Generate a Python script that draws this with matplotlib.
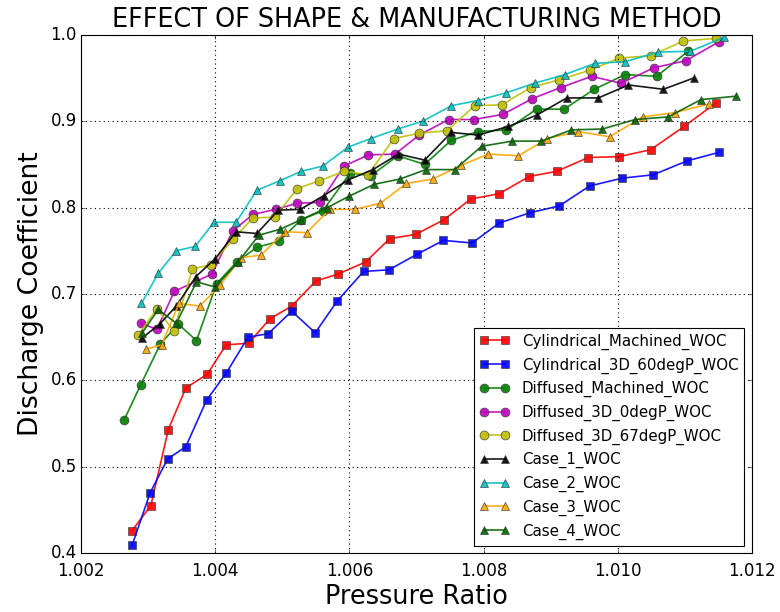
import matplotlib
matplotlib.use("Agg")
import matplotlib.pyplot as plt
from matplotlib.ticker import ScalarFormatter

plt.style.use("classic")
plt.rcParams["font.family"] = ["DejaVu Sans"]

# Pressure ratio / discharge coefficient measurements per test article
cyl_mach_x = [1.00276, 1.00304, 1.0033, 1.00356, 1.00388, 1.00416, 1.0045, 1.00481,
              1.00514, 1.0055, 1.00583, 1.00624, 1.0066, 1.00699, 1.00741, 1.00781,
              1.00823, 1.00868, 1.00909, 1.00956, 1.01002, 1.01049, 1.01099, 1.01146]
cyl_mach_y = [0.426, 0.455, 0.543, 0.591, 0.607, 0.641, 0.643, 0.671, 0.686, 0.715,
              0.723, 0.737, 0.764, 0.769, 0.786, 0.810, 0.816, 0.836, 0.842, 0.858,
              0.859, 0.867, 0.894, 0.921]

cyl_3d_x = [1.00276, 1.00303, 1.00329, 1.00356, 1.00387, 1.00416, 1.00449, 1.00479,
            1.00514, 1.00549, 1.00582, 1.00621, 1.00659, 1.00701, 1.0074, 1.00783,
            1.00823, 1.00869, 1.00913, 1.00958, 1.01006, 1.01053, 1.01103, 1.01151]
cyl_3d_y = [0.409, 0.470, 0.509, 0.523, 0.577, 0.608, 0.650, 0.654, 0.680, 0.655,
            0.692, 0.726, 0.728, 0.746, 0.762, 0.759, 0.782, 0.794, 0.802, 0.825,
            0.834, 0.838, 0.854, 0.864]

dif_mach_x = [1.00264, 1.00289, 1.00318, 1.00345, 1.00372, 1.00402, 1.00432, 1.00462,
              1.00495, 1.00528, 1.0056, 1.00601, 1.00632, 1.00672, 1.00712, 1.00752,
              1.00792, 1.00834, 1.00879, 1.0092, 1.00965, 1.01011, 1.01058, 1.01105]
dif_mach_y = [0.554, 0.595, 0.642, 0.665, 0.646, 0.712, 0.737, 0.754, 0.761, 0.786,
              0.796, 0.840, 0.837, 0.860, 0.850, 0.878, 0.888, 0.890, 0.914, 0.914,
              0.937, 0.954, 0.952, 0.981]

dif_0deg_x = [1.00289, 1.00313, 1.00339, 1.00395, 1.00426, 1.00456, 1.0049, 1.00522,
              1.00556, 1.00592, 1.00628, 1.00668, 1.00704, 1.00748, 1.00786, 1.00829,
              1.00872, 1.00915, 1.00961, 1.01005, 1.01054, 1.01101, 1.01151]
dif_0deg_y = [0.666, 0.659, 0.703, 0.723, 0.773, 0.792, 0.798, 0.805, 0.806, 0.848,
              0.861, 0.862, 0.884, 0.902, 0.902, 0.908, 0.926, 0.939, 0.952, 0.944,
              0.962, 0.970, 0.992]

dif_67deg_x = [1.00285, 1.00313, 1.00338, 1.00366, 1.00394, 1.00427, 1.00456, 1.00489,
               1.00522, 1.00555, 1.00592, 1.00628, 1.00666, 1.00704, 1.00745, 1.00787,
               1.00827, 1.0087, 1.00913, 1.00958, 1.01002, 1.0105, 1.01098, 1.01147]
dif_67deg_y = [0.652, 0.683, 0.657, 0.729, 0.734, 0.764, 0.788, 0.789, 0.822, 0.831,
               0.842, 0.838, 0.880, 0.886, 0.889, 0.918, 0.919, 0.939, 0.948, 0.959,
               0.973, 0.976, 0.993, 0.996]

case1_x = [1.00291, 1.00317, 1.00342, 1.00371, 1.004, 1.00431, 1.00462, 1.00494,
           1.00527, 1.00562, 1.00598, 1.00635, 1.00673, 1.00712, 1.00752, 1.00792,
           1.00837, 1.00879, 1.00924, 1.00971, 1.01016, 1.01068, 1.01113]
case1_y = [0.649, 0.665, 0.686, 0.720, 0.741, 0.772, 0.770, 0.797, 0.798, 0.814,
           0.832, 0.844, 0.862, 0.855, 0.887, 0.884, 0.894, 0.907, 0.927, 0.927,
           0.942, 0.937, 0.950]

case2_x = [1.0029, 1.00315, 1.00342, 1.0037, 1.00398, 1.00431, 1.00462, 1.00496,
           1.00528, 1.0056, 1.00598, 1.00632, 1.00672, 1.00709, 1.00752, 1.00791,
           1.00834, 1.00876, 1.00921, 1.00966, 1.01011, 1.0106, 1.01108, 1.01158]
case2_y = [0.689, 0.724, 0.750, 0.755, 0.783, 0.783, 0.820, 0.831, 0.842, 0.848,
           0.870, 0.880, 0.891, 0.900, 0.918, 0.924, 0.933, 0.944, 0.954, 0.967,
           0.969, 0.980, 0.981, 0.997]

case3_x = [1.00296, 1.0032, 1.00346, 1.00377, 1.00407, 1.00439, 1.00468, 1.00504,
           1.00536, 1.00571, 1.00608, 1.00646, 1.00685, 1.00724, 1.00767, 1.00807,
           1.00852, 1.00895, 1.00941, 1.00988, 1.01037, 1.01085, 1.01136]
case3_y = [0.636, 0.641, 0.689, 0.686, 0.710, 0.742, 0.745, 0.772, 0.771, 0.798,
           0.798, 0.805, 0.828, 0.833, 0.849, 0.862, 0.860, 0.880, 0.888, 0.882,
           0.905, 0.910, 0.920]

case4_x = [1.00291, 1.00315, 1.00342, 1.00372, 1.004, 1.00434, 1.00465, 1.00497,
           1.00528, 1.00567, 1.00599, 1.00637, 1.00675, 1.00714, 1.00757, 1.00797,
           1.00843, 1.00886, 1.00931, 1.00977, 1.01026, 1.01075, 1.01124, 1.01176]
case4_y = [0.655, 0.682, 0.666, 0.714, 0.708, 0.737, 0.768, 0.775, 0.786, 0.800,
           0.813, 0.827, 0.833, 0.844, 0.844, 0.871, 0.877, 0.877, 0.890, 0.891,
           0.902, 0.905, 0.925, 0.929]

series = [
    ("Cylindrical_Machined_WOC", cyl_mach_x, cyl_mach_y, "r", "s"),
    ("Cylindrical_3D_60degP_WOC", cyl_3d_x, cyl_3d_y, "b", "s"),
    ("Diffused_Machined_WOC", dif_mach_x, dif_mach_y, "g", "o"),
    ("Diffused_3D_0degP_WOC", dif_0deg_x, dif_0deg_y, "m", "o"),
    ("Diffused_3D_67degP_WOC", dif_67deg_x, dif_67deg_y, "y", "o"),
    ("Case_1_WOC", case1_x, case1_y, "k", "^"),
    ("Case_2_WOC", case2_x, case2_y, "c", "^"),
    ("Case_3_WOC", case3_x, case3_y, "orange", "^"),
    ("Case_4_WOC", case4_x, case4_y, "darkgreen", "^"),
]

fig = plt.figure(figsize=(9.75, 7.65), dpi=80, facecolor="white")
ax = fig.add_axes([0.104, 0.0964, 0.86, 0.8466])

for label, xs, ys, color, marker in series:
    ax.plot(xs, ys, color=color, marker=marker, markersize=8, linewidth=1.5,
            markeredgecolor="#333333", markeredgewidth=0.6, label=label, alpha=0.9)

ax.set_xlim(1.002, 1.012)
ax.set_ylim(0.4, 1.0)
ax.set_xticks([1.002, 1.004, 1.006, 1.008, 1.010, 1.012])
ax.set_yticks([0.4, 0.5, 0.6, 0.7, 0.8, 0.9, 1.0])
fmt = ScalarFormatter(useOffset=False)
ax.xaxis.set_major_formatter(fmt)
ax.tick_params(labelsize=15)
ax.tick_params(axis="x", pad=8)
ax.grid(True, color="k", linestyle=":", linewidth=1)

ax.set_title("EFFECT OF SHAPE & MANUFACTURING METHOD", fontsize=23, y=1.005)
ax.set_xlabel("Pressure Ratio", fontsize=23, labelpad=4)
ax.set_ylabel("Discharge Coefficient", fontsize=24, labelpad=6)

leg = ax.legend(loc="lower right", fontsize=13.5, numpoints=2, fancybox=False)
leg.get_frame().set_edgecolor("k")

fig.savefig("out.png", dpi=80, facecolor="white")
